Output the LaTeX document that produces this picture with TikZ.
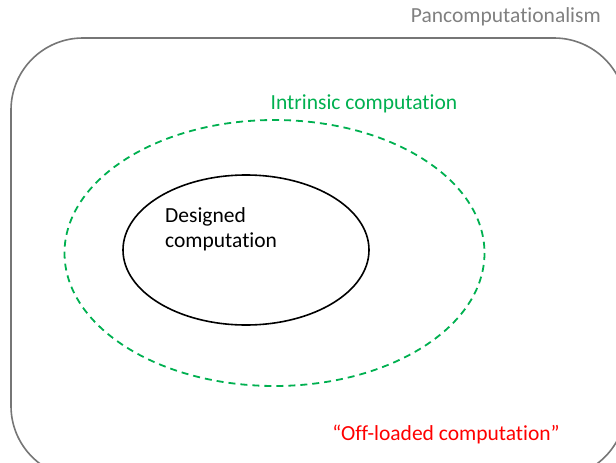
\documentclass[tikz,border=0pt]{standalone}
\usepackage{fontspec}
\setmainfont[Ligatures=NoCommon]{Carlito}
\definecolor{offgreen}{RGB}{0,176,80}
\definecolor{framegray}{RGB}{118,118,118}
\definecolor{textgray}{RGB}{128,128,128}
\begin{document}
\begin{tikzpicture}[x=1pt,y=-1pt,
  lbl/.style={inner sep=0pt,font=\fontsize{21.5}{25}\selectfont},
  frame/.style={draw=framegray,line width=1.6pt,rounded corners=72pt},
  outerell/.style={draw=offgreen,line width=1.8pt,dash pattern=on 7pt off 5pt},
  innerell/.style={draw=black,line width=1.6pt}]
\useasboundingbox (0,0) rectangle (616,463);
\begin{scope}
\clip (0,0) rectangle (616,463);
\draw[frame] (11,38) rectangle (626,478);
\end{scope}
\draw[outerell] (274.5,253) ellipse [x radius=210, y radius=133];
\draw[innerell] (246,250) ellipse [x radius=123, y radius=75];
\node[lbl,text=textgray,anchor=east] (pan) at (601,17) {Pancomputationalism};
\node[lbl,text=offgreen] (intr) at (364,104) {Intrinsic computation};
\node[lbl,text=red] (off) at (446,434) {“Off-loaded computation”};
\node[lbl,anchor=north west,align=left] (des) at (165,207) {Designed\\computation};
\end{tikzpicture}
\end{document}
